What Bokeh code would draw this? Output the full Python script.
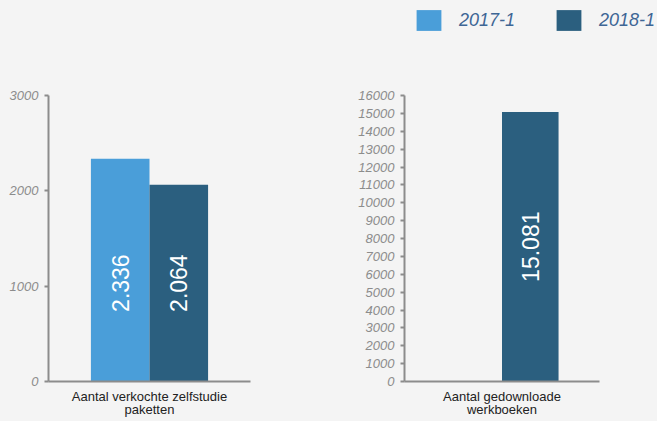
import math
from bokeh.plotting import figure
from bokeh.models import FactorRange, Range1d, FixedTicker, Legend, LegendItem, ColumnDataSource
from bokeh.transform import dodge
from bokeh.layouts import row, column
from bokeh.core.properties import value
from bokeh.embed import file_html
from bokeh.resources import INLINE

# ---------------- data ----------------
categories = ["Aantal verkochte zelfstudie\npaketten", "Aantal gedownloade\nwerkboeken"]
series = ["2017-1", "2018-1"]
values_2017 = [2336, float("nan")]
values_2018 = [2064, 15081]
labels_2017 = ["2.336", ""]
labels_2018 = ["2.064", "15.081"]
y_max = [3000, 16000]
ticks_left = [0, 1000, 2000, 3000]
ticks_right = [0, 1000, 2000, 3000, 4000, 5000, 6000, 7000, 8000, 9000,
               10000, 11000, 12000, 13000, 14000, 15000, 16000]
colors = ["#4A9ED9", "#2B5F7F"]

# ---------------- style ----------------
BG = "#F4F4F4"
AXIS = "#8C8C8C"
FONT = "Liberation Sans"
BAR_W = 0.29
H_LEG = 45
H = 421 - H_LEG

def make_chart(i, width, bl, br, bt, bb, ticks):
    cat = categories[i]
    p = figure(x_range=FactorRange(factors=[cat]), y_range=Range1d(0, y_max[i]),
               width=width, height=H, output_backend="svg", toolbar_location=None,
               min_border_left=bl, min_border_right=br, min_border_top=bt, min_border_bottom=bb,
               background_fill_color=BG, border_fill_color=BG, outline_line_color=None)
    p.grid.visible = False
    valid = [v for v in (values_2017[i], values_2018[i]) if not math.isnan(v)]
    src = ColumnDataSource(dict(x=[cat], v17=[values_2017[i]], v18=[values_2018[i]],
                                ylab=[min(valid) / 2], l17=[labels_2017[i]], l18=[labels_2018[i]]))
    p.vbar(x=dodge("x", -BAR_W / 2, range=p.x_range), top="v17", width=BAR_W,
           fill_color=colors[0], line_color=None, source=src)
    p.vbar(x=dodge("x", BAR_W / 2, range=p.x_range), top="v18", width=BAR_W,
           fill_color=colors[1], line_color=None, source=src)
    for col, off in (("l17", -BAR_W / 2), ("l18", BAR_W / 2)):
        p.text(x=dodge("x", off, range=p.x_range), y="ylab", text=col, angle=math.pi / 2,
               text_align="center", text_baseline="middle", text_color="white",
               text_font=value(FONT), text_font_size="23px", source=src)

    ya = p.yaxis[0]
    ya.ticker = FixedTicker(ticks=ticks)
    ya.axis_line_color = AXIS
    ya.axis_line_width = 2
    ya.major_tick_out = 4
    ya.major_tick_in = 0
    ya.major_tick_line_color = AXIS
    ya.major_tick_line_width = 2
    ya.minor_tick_line_color = None
    ya.major_label_standoff = 6
    ya.major_label_text_font = FONT
    ya.major_label_text_font_style = "italic"
    ya.major_label_text_font_size = "13px"
    ya.major_label_text_color = AXIS

    xa = p.xaxis[0]
    xa.axis_line_color = AXIS
    xa.axis_line_width = 2
    xa.major_tick_out = 0
    xa.major_tick_in = 0
    xa.major_tick_line_color = None
    xa.minor_tick_line_color = None
    xa.major_label_standoff = 7
    xa.major_label_text_font = FONT
    xa.major_label_text_font_size = "13px"
    xa.major_label_text_color = "#222222"
    xa.major_label_text_line_height = 0.9
    return p

p1 = make_chart(0, 330, 48, 80, 95 - H_LEG, H - (95 - H_LEG) - 289, ticks_left)
p2 = make_chart(1, 327, 74, 58, 93 - H_LEG, H - (93 - H_LEG) - 288, ticks_right)

# ---------------- legend strip ----------------
pl = figure(width=657, height=H_LEG, x_range=Range1d(0, 1), y_range=Range1d(0, 1),
            output_backend="svg", toolbar_location=None,
            x_axis_location=None, y_axis_location=None,
            min_border_left=0, min_border_right=0, min_border_top=0, min_border_bottom=0,
            background_fill_color=BG, border_fill_color=BG, outline_line_color=None)
pl.grid.visible = False
swatch = ColumnDataSource(dict(x=[0.5], top=[float("nan")]))
lr = [pl.vbar(x="x", top="top", width=0.1, fill_color=c, line_color=None, source=swatch)
      for c in colors]
legend = Legend(items=[LegendItem(label=s, renderers=[r]) for s, r in zip(series, lr)],
                location=(413, H_LEG - 33), orientation="horizontal",
                glyph_width=31, glyph_height=26, label_standoff=15, spacing=38,
                padding=0, margin=0, border_line_color=None, background_fill_alpha=0,
                label_text_font=FONT, label_text_font_style="italic",
                label_text_font_size="18px", label_text_color="#3E6695",
                label_height=26)
pl.add_layout(legend, "center")

layout = column(pl, row(p1, p2))
html = file_html(layout, INLINE, title="chart")
html = html.replace("</head>", "<style>html,body{background:#F4F4F4;}</style></head>", 1)
open("out.html", "w").write(html)
